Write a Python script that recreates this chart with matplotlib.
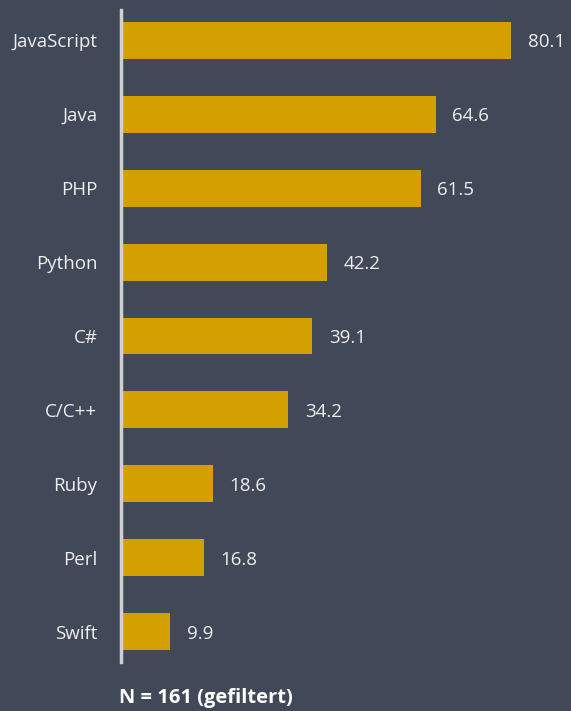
import matplotlib
matplotlib.use("Agg")
import matplotlib.pyplot as plt
import matplotlib.transforms as mtransforms

# Daten
sprachen = ["JavaScript", "Java", "PHP", "Python", "C#", "C/C++", "Ruby", "Perl", "Swift"]
werte = [80.1, 64.6, 61.5, 42.2, 39.1, 34.2, 18.6, 16.8, 9.9]
fussnote = "N = 161 (gefiltert)"

bg = "#414858"
gold = "#d4a000"
txt = "#eeeeee"

plt.rcParams['font.family'] = ['Open Sans', 'DejaVu Sans']

fig = plt.figure(figsize=(5.71, 7.11), dpi=100, facecolor=bg)
ax = fig.add_axes([121 / 571, 1 - 662 / 711, 1 - 121 / 571, 652 / 711])
ax.set_facecolor(bg)

pos = list(range(len(sprachen)))
ax.barh(pos, werte, height=0.5, color=gold, left=0.3)
ax.set_ylim(8.41, -0.41)
ax.set_xlim(0, 92.8)

for p, w in zip(pos, werte):
    ax.annotate(f"{w:.1f}", (w + 0.3, p), xytext=(12, -1.5), textcoords="offset points",
                ha="left", va="center", color=txt, fontsize=13.5)

ax.set_yticks(pos)
ax.set_yticklabels(sprachen, color=txt, fontsize=13.5)
# Labels etwas nach unten schieben
verschiebung = mtransforms.ScaledTranslation(0, -3 / 100, fig.dpi_scale_trans)
for lab in ax.get_yticklabels():
    lab.set_transform(lab.get_transform() + verschiebung)
ax.tick_params(axis="y", length=0, pad=17)
ax.set_xticks([])
for s in ["top", "right", "bottom"]:
    ax.spines[s].set_visible(False)
ax.spines["left"].set_color("#d0d0d0")
ax.spines["left"].set_linewidth(2.5)

fig.text(119 / 571, 1 - 698 / 711, fussnote, color="white", fontsize=14.5,
         fontweight="bold", ha="left", va="center")

fig.savefig("out.png", facecolor=bg)
